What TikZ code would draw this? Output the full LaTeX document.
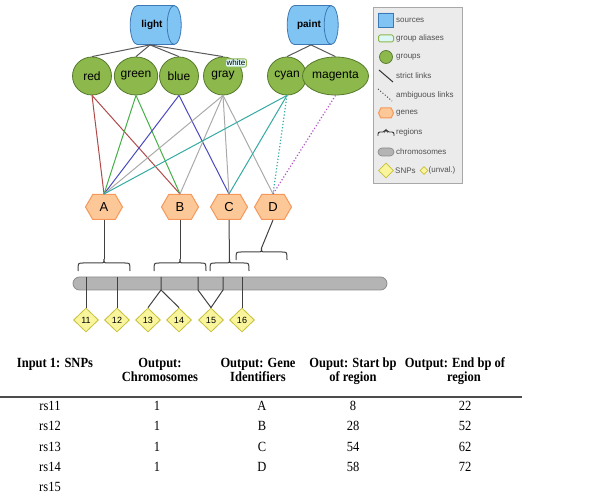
\documentclass[tikz,border=0pt]{standalone}
\usepackage{fontspec}
\setmainfont{Liberation Serif}
\setsansfont{Liberation Sans}
\usetikzlibrary{shapes.geometric,shapes.symbols}
\definecolor{srcfill}{HTML}{80C4F4}
\definecolor{srcdraw}{HTML}{3C78B4}
\definecolor{grpfill}{HTML}{8CB84C}
\definecolor{grpdraw}{HTML}{557A2C}
\definecolor{genefill}{HTML}{FCC898}
\definecolor{genedraw}{HTML}{F5985A}
\definecolor{snpfill}{HTML}{F8F59C}
\definecolor{snpdraw}{HTML}{C8C03C}
\definecolor{chrfill}{HTML}{B4B4B4}
\definecolor{chrdraw}{HTML}{8C8C8C}
\definecolor{lred}{HTML}{B04A4A}
\definecolor{lgreen}{HTML}{44B044}
\definecolor{lblue}{HTML}{4A4AC0}
\definecolor{lgray}{HTML}{AAAAAA}
\definecolor{lteal}{HTML}{34AAA2}
\definecolor{lmag}{HTML}{B454C8}
\definecolor{aliasfill}{HTML}{DDF6F6}
\definecolor{legfill}{HTML}{EBEBEB}
\definecolor{legdraw}{HTML}{A8A8A8}
\definecolor{legtext}{HTML}{505050}
\newcommand\tstr[1]{\scalebox{1}[1.12]{#1}}
% brace: #1 left x, #2 right x, #3 horizontal y, #4 name of tip coordinate
\newcommand\regbrace[4]{%
  \coordinate (#4) at ({(#1+#2)/2},#3-4);
  \draw[regline] (#1,#3+8) .. controls (#1,#3) and (#1,#3) .. (#1+5,#3)
     -- ({(#1+#2)/2-4},#3) .. controls ({(#1+#2)/2},#3) and ({(#1+#2)/2},#3) .. (#4)
     .. controls ({(#1+#2)/2},#3) and ({(#1+#2)/2},#3) .. ({(#1+#2)/2+4},#3)
     -- (#2-5,#3) .. controls (#2,#3) and (#2,#3) .. (#2,#3+8);}
\begin{document}
\begin{tikzpicture}[x=1pt,y=-1pt,font=\sffamily,
  source/.style={cylinder, shape border rotate=0, aspect=1.5, draw=srcdraw, fill=srcfill, line width=0.8pt, minimum height=51pt, minimum width=39pt, inner sep=0pt, font=\sffamily\bfseries\fontsize{10}{12}\selectfont},
  group/.style={ellipse, draw=grpdraw, fill=grpfill, line width=0.8pt, minimum width=39pt, minimum height=38pt, inner sep=0pt, font=\sffamily\fontsize{12}{14}\selectfont},
  gene/.style={signal, signal to=east and west, signal pointer angle=120, draw=genedraw, fill=genefill, line width=1pt, minimum width=37pt, minimum height=25pt, inner sep=0pt, font=\sffamily\fontsize{13}{15}\selectfont},
  snp/.style={diamond, draw=snpdraw, fill=snpfill, line width=0.8pt, minimum width=25pt, minimum height=24pt, inner sep=0pt, font=\sffamily\fontsize{9}{10}\selectfont},
  srclink/.style={draw=black!65, line width=1pt},
  link/.style={line width=1pt},
  amb/.style={line width=1.2pt, dotted},
  regline/.style={draw=black!75, line width=1pt},
  snpline/.style={draw=black!75, line width=1pt},
  legtxt/.style={anchor=west, text=legtext, inner sep=0pt, font=\sffamily\fontsize{8}{9}\selectfont},
  thead/.style={anchor=base, inner sep=0pt, font=\fontsize{12.5}{14}\selectfont\bfseries},
  tcell/.style={anchor=base, inner sep=0pt, font=\fontsize{12.5}{14}\selectfont},
]
\useasboundingbox (0,0) rectangle (600,497);
% sources
\node[source] (light) at (152,25) {light};
\node[source] (paint) at (309,25) {paint};
% groups
\node[group] (red) at (92,76) {red};
\node[group] (green) at (136,76) {green};
\node[group] (blue) at (179,76) {blue};
\node[group] (gray) at (223,76) {gray};
\node[group] (cyan) at (287,76) {cyan};
\node[group, minimum width=49pt] (magenta) at (335.5,76) {magenta};
\node[draw=grpfill, fill=aliasfill, rounded corners=2pt, line width=0.8pt, inner sep=1.2pt, font=\sffamily\fontsize{8}{9}\selectfont] (alias) at (236,63) {white};
% source links
\foreach \g in {red,green,blue,gray} \draw[srclink] ([xshift=-2pt]light.south) -- (\g.north);
\foreach \g in {cyan,magenta} \draw[srclink] ([xshift=2pt]paint.south) -- (\g.north);
% genes
\node[gene] (A) at (104,207) {A};
\node[gene] (B) at (180,207) {B};
\node[gene] (C) at (229,207) {C};
\node[gene] (D) at (273,207) {D};
% group-gene links
\draw[link, lred] (red.south) -- (A.north);
\draw[link, lred] (red.south) -- (B.north);
\draw[link, lgreen] (green.south) -- (A.north);
\draw[link, lgreen] (green.south) -- (B.north);
\draw[link, lblue] (blue.south) -- (A.north);
\draw[link, lblue] (blue.south) -- (C.north);
\draw[link, lgray] (gray.south) -- (A.north);
\draw[link, lgray] (gray.south) -- (B.north);
\draw[link, lgray] (gray.south) -- (C.north);
\draw[link, lgray] (gray.south) -- (D.north);
\draw[link, lteal] (cyan.south) -- (A.north);
\draw[link, lteal] (cyan.south) -- (C.north);
\draw[amb, lteal] (cyan.south) -- (D.north);
\draw[amb, lmag] (magenta.south) -- (D.north);
% regions
\regbrace{78}{130}{263}{tA}
\regbrace{154}{206}{263}{tB}
\regbrace{210}{249}{263}{tC}
\regbrace{236}{287}{252}{tD}
\draw[snpline] (A.south) -- (tA);
\draw[snpline] (B.south) -- (tB);
\draw[snpline] (C.south) -- (tC);
\draw[snpline] (D.south) -- (tD);
% chromosome
\node[draw=chrdraw, fill=chrfill, line width=0.8pt, rounded corners=6.5pt, minimum width=314pt, minimum height=13pt, inner sep=0pt] (chr) at (230,283.5) {};
% SNPs
\node[snp] (s11) at (86,320) {11};
\node[snp] (s12) at (117,320) {12};
\node[snp] (s13) at (148,320) {13};
\node[snp] (s14) at (179,320) {14};
\node[snp] (s15) at (211,320) {15};
\node[snp] (s16) at (242,320) {16};
\coordinate (c11) at (86,277);
\coordinate (c12) at (117,277);
\coordinate (c13) at (161,277);
\coordinate (k13) at (161,290);
\coordinate (c15a) at (198,277);
\coordinate (k15a) at (198,290);
\coordinate (c15b) at (223,277);
\coordinate (k15b) at (223,290);
\coordinate (c16) at (242,277);
\draw[snpline] (c11) -- (s11.north);
\draw[snpline] (c12) -- (s12.north);
\draw[snpline] (c13) -- (k13) -- (s13.north);
\draw[snpline] (k13) -- (s14.north);
\draw[snpline] (c15a) -- (k15a) -- (s15.north);
\draw[snpline] (c15b) -- (k15b) -- (s15.north);
\draw[snpline] (c16) -- (s16.north);
% legend
\node[draw=legdraw, fill=legfill, line width=0.8pt, minimum width=89pt, minimum height=176pt, anchor=north west, inner sep=0pt] (leg) at (373,7) {};
\node[cylinder, shape border rotate=0, aspect=1.5, draw=srcdraw, fill=srcfill, line width=0.7pt, minimum height=15pt, minimum width=14pt, inner sep=0pt] (lsrc) at (386,20) {};
\node[legtxt] (tsrc) at (396,20) {sources};
\node[draw=grpfill, fill=aliasfill, line width=1pt, rounded corners=1.5pt, minimum width=15pt, minimum height=7pt, inner sep=0pt] (lali) at (386,38.5) {};
\node[legtxt] (tali) at (396,38.5) {group aliases};
\node[circle, draw=grpdraw, fill=grpfill, line width=0.7pt, minimum size=13pt, inner sep=0pt] (lgrp) at (386,57) {};
\node[legtxt] (tgrp) at (396,57) {groups};
\coordinate (lsa) at (379,70);
\coordinate (lsb) at (393,82);
\draw[line width=1pt, black!80] (lsa) -- (lsb);
\node[legtxt] (tstr) at (396,76) {strict links};
\coordinate (laa) at (378,89);
\coordinate (lab) at (392,101);
\draw[line width=1pt, black!70, dotted] (laa) -- (lab);
\node[legtxt] (tamb) at (396,95) {ambiguous links};
\node[signal, signal to=east and west, signal pointer angle=130, draw=genedraw, fill=genefill, line width=1pt, minimum width=15pt, minimum height=10pt, inner sep=0pt] (lgen) at (386,113) {};
\node[legtxt] (tgen) at (396,113) {genes};
\coordinate (lrt) at (386,129);
\draw[line width=0.9pt, black!80, rounded corners=2pt] (378,136) -- (378,132) -- (385,132) -- (lrt) -- (387,132) -- (394,132) -- (394,136);
\node[legtxt] (treg) at (396,132) {regions};
\node[draw=chrdraw, fill=chrfill, line width=0.7pt, rounded corners=4pt, minimum width=16pt, minimum height=8pt, inner sep=0pt] (lchr) at (386,152) {};
\node[legtxt] (tchr) at (396,152) {chromosomes};
\node[diamond, draw=snpdraw, fill=snpfill, line width=0.8pt, minimum width=15pt, minimum height=15pt, inner sep=0pt] (lsnp) at (386,170.5) {};
\node[legtxt] (tsnp) at (395,170.5) {SNPs};
\node[diamond, draw=snpdraw, fill=snpfill, line width=0.6pt, minimum width=8pt, minimum height=8pt, inner sep=0pt] (lun) at (424,170.5) {};
\node[legtxt] (tun) at (428.5,170.5) {(unval.)};
% table
\node[thead] (h1) at (55,367) {\tstr{Input 1: SNPs}};
\node[thead] (h2a) at (160,367) {\tstr{Output:}};
\node[thead] (h2b) at (160,381.5) {\tstr{Chromosomes}};
\node[thead] (h3a) at (258,367) {\tstr{Output: Gene}};
\node[thead] (h3b) at (258,381.5) {\tstr{Identifiers}};
\node[thead] (h4a) at (353,367) {\tstr{Ouput: Start bp}};
\node[thead] (h4b) at (353,381.5) {\tstr{of region}};
\node[thead] (h5a) at (455,367) {\tstr{Output: End bp of}};
\node[thead] (h5b) at (464,381.5) {\tstr{region}};
\coordinate (ruleL) at (0,397);
\coordinate (ruleR) at (522,397);
\draw[line width=1.4pt, black!70] (ruleL) -- (ruleR);
\foreach \r/\y/\c/\g/\s/\e in {rs11/410/1/A/8/22, rs12/430.5/1/B/28/52, rs13/451/1/C/54/62, rs14/471.5/1/D/58/72}{
  \node[tcell] at (50,\y) {\tstr{\r}};
  \node[tcell] at (157,\y) {\tstr{\c}};
  \node[tcell] at (262,\y) {\tstr{\g}};
  \node[tcell] at (353,\y) {\tstr{\s}};
  \node[tcell] at (465,\y) {\tstr{\e}};
}
\node[tcell] (r15) at (50,491.5) {\tstr{rs15}};
\end{tikzpicture}
\end{document}
